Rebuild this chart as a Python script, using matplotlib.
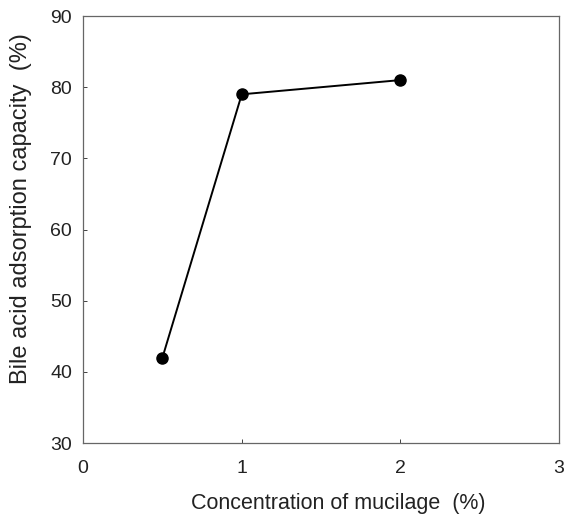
import matplotlib
matplotlib.use("Agg")
import matplotlib.pyplot as plt

concentration = [0.5, 1, 2]
adsorption = [42, 79, 81]
x_ticks = [0, 1, 2, 3]
y_ticks = [30, 40, 50, 60, 70, 80, 90]

plt.rcParams['font.family'] = ['Liberation Sans', 'DejaVu Sans']

fig = plt.figure(figsize=(5.77, 5.17), dpi=100)
ax = fig.add_axes([0.144, 0.143, 0.825, 0.826])
ax.plot(concentration, adsorption, color='black', lw=1.4, marker='o', ms=8,
        mfc='black', mec='black')
ax.set_xlim(0, 3)
ax.set_ylim(30, 90)
ax.set_xticks(x_ticks)
ax.set_yticks(y_ticks)
ax.tick_params(direction='in', length=3, width=0.6, labelsize=14, colors='#222222', pad=8)
ax.tick_params(axis='x', pad=12)
for s in ax.spines.values():
    s.set_linewidth(0.9)
    s.set_color('#666666')
ax.set_xlabel('Concentration of mucilage  (%)', fontsize=15.5, color='#222222')
ax.set_ylabel('Bile acid adsorption capacity  (%)', fontsize=17, color='#222222')
ax.xaxis.set_label_coords(0.535, -0.117)
ax.yaxis.set_label_coords(-0.108, 0.55)
fig.savefig('out.png', dpi=100)
